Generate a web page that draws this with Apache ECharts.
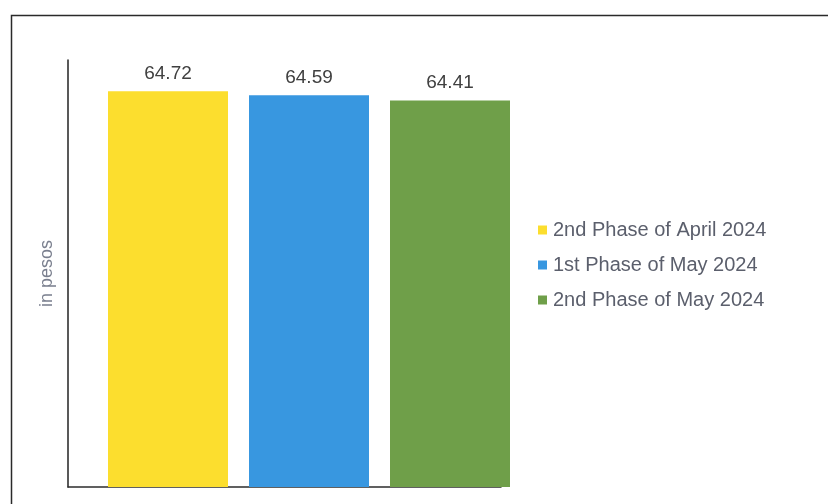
<!DOCTYPE html>
<html><head><meta charset="utf-8">
<script src="https://cdn.jsdelivr.net/npm/echarts@6/dist/echarts.min.js"></script>
<style>html,body{margin:0;padding:0;background:#fff}#c{width:828px;height:504px}</style>
</head><body><div id="c"></div>
<script>
const categories = [''];
const seriesNames = ['2nd Phase of April 2024', '1st Phase of May 2024', '2nd Phase of May 2024'];
const seriesValues = [64.72, 64.59, 64.41];
const seriesColors = ['#FCDE2E', '#3897E0', '#6F9F49'];
const yName = 'in pesos';

const chart = echarts.init(document.getElementById('c'));
const font = 'Liberation Sans, Arial, sans-serif';
chart.setOption({
  animation: false,
  backgroundColor: '#fff',
  graphic: [{
    type: 'rect', left: 9, top: 13, z: -1,
    shape: { width: 830, height: 500 },
    style: { fill: 'none', stroke: '#2a2a2a', lineWidth: 1.5 }
  }],
  legend: {
    orient: 'vertical', left: 533, top: 215,
    icon: 'rect', itemWidth: 9, itemHeight: 9, itemGap: 15,
    textStyle: { fontFamily: font, fontSize: 20, color: '#5b5f6c', padding: [0, 0, 0, 1] },
    data: seriesNames
  },
  grid: [
    { left: 68, top: 60, width: 482, bottom: 17 },
    { left: 68, top: 60, width: 433, bottom: 17 }
  ],
  xAxis: [
    { type: 'category', gridIndex: 0, data: categories, axisLine: { show: false }, axisTick: { show: false }, axisLabel: { show: false } },
    { type: 'category', gridIndex: 1, data: categories, axisLine: { show: true, lineStyle: { color: '#2d2d2d', width: 1.5 } }, axisTick: { show: false }, axisLabel: { show: false } }
  ],
  yAxis: [
    { type: 'value', gridIndex: 0, min: 51.1, max: 65.8,
      name: yName, nameLocation: 'middle', nameGap: 12,
      nameTextStyle: { fontFamily: font, fontSize: 18, color: '#7a7f8e' },
      axisLine: { show: true, lineStyle: { color: '#222', width: 1.5 } },
      axisTick: { show: false }, axisLabel: { show: false }, splitLine: { show: false } },
    { type: 'value', gridIndex: 1, show: false, min: 51.1, max: 65.8 }
  ],
  series: seriesNames.map((n, i) => ({
    name: n, type: 'bar', xAxisIndex: 0, yAxisIndex: 0,
    barWidth: 120, barGap: '17.5%',
    itemStyle: { color: seriesColors[i] },
    label: { show: true, position: 'top', distance: 8, fontFamily: font, fontSize: 19, color: '#404040', formatter: p => p.value.toFixed(2) },
    data: [seriesValues[i]]
  }))
});
</script></body></html>
